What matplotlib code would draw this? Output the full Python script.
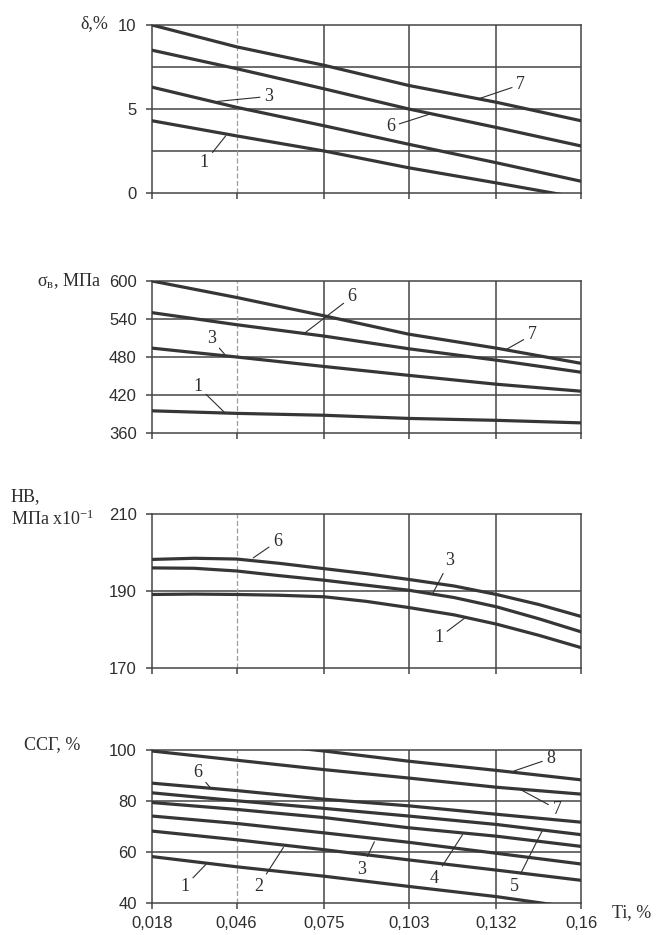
import numpy as np
import matplotlib
matplotlib.use('Agg')
import matplotlib.pyplot as plt

plt.rcParams['mathtext.fontset'] = 'custom'
plt.rcParams['mathtext.rm'] = 'Liberation Serif'
plt.rcParams['mathtext.it'] = 'Liberation Serif:italic'

# Ti content, % (x axis)
ti = [0.018, 0.046, 0.075, 0.103, 0.132, 0.16]
ti_labels = ['0,018', '0,046', '0,075', '0,103', '0,132', '0,16']

# elongation, %
delta_1 = [4.3, 3.4, 2.5, 1.5, 0.6, -0.3]
delta_3 = [6.3, 5.1, 4.0, 2.9, 1.8, 0.7]
delta_6 = [8.5, 7.4, 6.2, 5.0, 3.9, 2.8]
delta_7 = [10.0, 8.7, 7.6, 6.4, 5.4, 4.3]

# tensile strength, MPa
sigma_1 = [395, 391, 388, 383, 380, 376]
sigma_3 = [494, 480, 465, 451, 437, 426]
sigma_6 = [550, 531, 513, 493, 475, 456]
sigma_7 = [600, 574, 545, 516, 494, 470]

# hardness HB (read at half steps)
ti_hb = [0.018, 0.032, 0.046, 0.060, 0.075, 0.089, 0.103, 0.118, 0.132, 0.146, 0.16]
hb_1 = [189.1, 189.2, 189.1, 188.9, 188.5, 187.3, 185.7, 183.8, 181.4, 178.5, 175.3]
hb_3 = [196.0, 195.9, 195.2, 194.0, 192.8, 191.5, 190.2, 188.3, 185.9, 182.8, 179.4]
hb_6 = [198.2, 198.5, 198.3, 197.2, 195.8, 194.5, 193.0, 191.3, 189.1, 186.5, 183.4]

# ССГ, %
ssg_1 = [58.2, 54.2, 50.5, 46.5, 42.5, 37.8]
ssg_2 = [68.2, 64.8, 60.9, 56.9, 52.9, 48.9]
ssg_3 = [74.1, 71.2, 67.5, 63.8, 59.5, 55.3]
ssg_4 = [79.4, 76.7, 73.5, 69.5, 66.2, 62.2]
ssg_5 = [83.2, 80.1, 77.1, 74.1, 70.8, 66.8]
ssg_6 = [87.0, 84.1, 80.7, 78.1, 74.8, 71.7]
ssg_7 = [99.6, 96.0, 92.3, 89.0, 85.4, 82.7]
ssg_8 = [107.0, 103.3, 99.6, 95.6, 92.0, 88.3]

W, H = 668, 935
LINE_C = '#363636'
GRID_C = '#454545'
TEXT_C = '#2e2e2e'
SANS = 'Liberation Sans'
SERIF = 'Liberation Serif'


def px_rect(top, bottom, left=152, right=581):
    return [left / W, 1 - bottom / H, (right - left) / W, (bottom - top) / H]


def style_axes(ax, ylim, yticks, ygrid, show_x):
    ax.set_xlim(ti[0], ti[-1])
    ax.set_ylim(*ylim)
    ax.set_yticks(yticks)
    ax.set_yticks(ygrid, minor=True)
    ax.set_xticks(ti)
    for s in ax.spines.values():
        s.set_color(GRID_C)
        s.set_linewidth(1.1)
    ax.tick_params(axis='both', which='major', direction='out', length=4,
                   width=1.1, color=GRID_C, labelcolor=TEXT_C, labelsize=12)
    ax.tick_params(axis='y', which='minor', length=0)
    ax.tick_params(axis='y', which='major', pad=7)
    ax.tick_params(axis='x', which='major', pad=5)
    for lab in ax.get_yticklabels():
        lab.set_fontfamily(SANS)
    if show_x:
        ax.set_xticklabels(ti_labels, fontfamily=SANS)
    else:
        ax.set_xticklabels([])
    for y in ygrid:
        ax.axhline(y, color=GRID_C, lw=1.1, zorder=1)
    for i, x in enumerate(ti[1:-1]):
        if i == 0:
            ax.axvline(x, color='#9c9c9c', lw=0.9, ls=(0, (4, 2)), zorder=1)
        else:
            ax.axvline(x, color=GRID_C, lw=1.1, zorder=1)


def label(ax, text, xy, xytext):
    ax.annotate(text, xy=xy, xytext=xytext, fontsize=13, family=SERIF,
                color=TEXT_C, ha='center', va='center',
                arrowprops=dict(arrowstyle='-', color=TEXT_C, lw=0.8,
                                shrinkA=1, shrinkB=0))


fig = plt.figure(figsize=(W / 100, H / 100), dpi=100)

# panel 1: elongation
ax1 = fig.add_axes(px_rect(25, 193))
style_axes(ax1, (0, 10), [0, 5, 10], [2.5, 5, 7.5], False)
for ys in (delta_1, delta_3, delta_6, delta_7):
    ax1.plot(ti, ys, color=LINE_C, lw=2.3, zorder=3)
label(ax1, '7', (0.126, 5.6), (0.140, 6.45))
label(ax1, '6', (0.110, 4.7), (0.097, 3.95))
label(ax1, '3', (0.0396, 5.45), (0.0566, 5.75))
label(ax1, '1', (0.0424, 3.4), (0.0353, 1.8))

# panel 2: tensile strength
ax2 = fig.add_axes(px_rect(281, 433))
style_axes(ax2, (360, 600), [360, 420, 480, 540, 600], [420, 480, 540], False)
for ys in (sigma_1, sigma_3, sigma_6, sigma_7):
    ax2.plot(ti, ys, color=LINE_C, lw=2.3, zorder=3)
label(ax2, '6', (0.0686, 518), (0.0842, 575))
label(ax2, '7', (0.1353, 492), (0.1438, 515))
label(ax2, '3', (0.0421, 484), (0.0376, 509))
label(ax2, '1', (0.0419, 393), (0.0331, 434))

# panel 3: hardness
ax3 = fig.add_axes(px_rect(514, 668))
style_axes(ax3, (170, 210), [170, 190, 210], [190], False)
for ys in (hb_1, hb_3, hb_6):
    ax3.plot(ti_hb, ys, color=LINE_C, lw=2.3, zorder=3)
label(ax3, '6', (0.0515, 198.6), (0.0595, 202.9))
label(ax3, '3', (0.1109, 189.3), (0.1165, 197.8))
label(ax3, '1', (0.1214, 182.9), (0.1129, 177.9))

# panel 4: ССГ
ax4 = fig.add_axes(px_rect(750, 903))
style_axes(ax4, (40, 100), [40, 60, 80, 100], [60, 80], True)
for ys in (ssg_1, ssg_2, ssg_3, ssg_4, ssg_5, ssg_6, ssg_7, ssg_8):
    ax4.plot(ti, ys, color=LINE_C, lw=2.3, zorder=3)
label(ax4, '8', (0.1379, 91.8), (0.150, 96.7))
label(ax4, '7', (0.1401, 84.4), (0.152, 76.8))
label(ax4, '6', (0.0373, 85.2), (0.0331, 91.1))
label(ax4, '5', (0.1472, 68.4), (0.1379, 46.5))
label(ax4, '4', (0.1208, 66.8), (0.1114, 49.6))
label(ax4, '3', (0.0916, 64.0), (0.0873, 53.3))
label(ax4, '2', (0.0615, 61.8), (0.0532, 46.5))
label(ax4, '1', (0.0359, 55.2), (0.0288, 46.5))


def ftext(x, y, s, **kw):
    fig.text(x / W, 1 - y / H, s, family=SERIF, color=TEXT_C, fontsize=13,
             va='center', **kw)


ftext(108, 24, 'δ,%', ha='right')
ftext(101, 281, 'σ$_{\\mathrm{в}}$, МПа', ha='right')
ftext(11, 497, 'НВ,', ha='left')
ftext(11, 519, 'МПа x10$^{\\mathrm{-1}}$', ha='left')
ftext(24, 745, 'ССГ, %', ha='left')
ftext(612, 913, 'Ti, %', ha='left')

fig.savefig('out.png', dpi=100)
